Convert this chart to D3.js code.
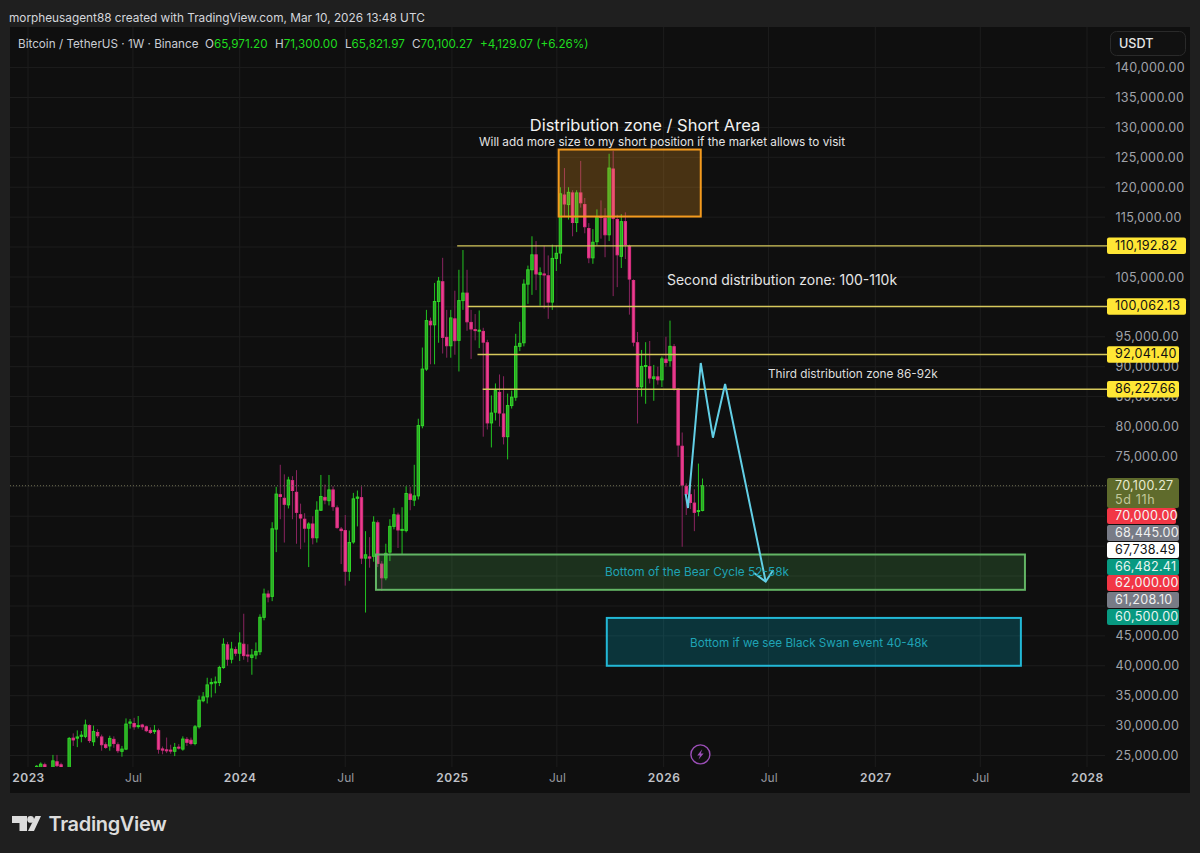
<!DOCTYPE html>
<html><head><meta charset="utf-8">
<script src="https://cdnjs.cloudflare.com/ajax/libs/d3/7.8.5/d3.min.js"></script>
<style>
html,body{margin:0;padding:0;background:#1f1f1f;}
svg{display:block;font-family:Inter,"Noto Sans",sans-serif;}
</style></head><body><svg id="c" width="1200" height="853"></svg>
<script>
// Weekly BTC/USDT candles (thousand USDT), one row per ten weeks.
const firstWeek = "2023-01-16";
const opens = [21.2,23.0,23.45,22.9,21.8,23.95,23.45,22.4,
20.5,27.9,27.9,28.2,28.2,30.0,27.3,28.85,28.1,26.8,
26.6,27.7,26.8,25.7,26.07,30.4,30.35,29.9,30.1,29.8,
29.2,29.0,29.15,26.1,25.95,25.9,25.7,26.4,26.07,27.7,
27.55,27.0,29.8,34.15,34.8,37.0,37.2,37.2,39.7,43.5,
41.1,42.7,42.1,43.6,41.8,41.4,41.8,42.35,48.1,52.0,
51.6,62.85,68.6,68.0,66.9,70.95,69.0,65.25,64.5,63.0,
63.7,61.4,66.0,68.15,67.6,69.4,66.4,62.85,62.6,55.8,
60.7,68.0,68.1,58.0,58.2,58.3,63.9,57.0,54.7,59.0,
63.3,65.2,62.7,62.6,68.7,67.7,68.4,80.15,89.6,97.6,
97.0,100.9,104.2,94.9,93.5,98.0,94.4,101.05,102.3,97.4,
96.2,96.0,95.9,94.0,80.6,82.4,85.7,82.1,78.3,83.5,
84.9,93.4,94.0,103.8,106.2,108.7,105.4,105.5,105.2,100.8,
108.1,109.0,118.7,117.1,119.05,114.1,119.05,117.1,113.1,108.2,
110.9,115.1,114.85,112.05,123.05,114.6,108.45,114.25,110.1,104.4,
94.0,86.65,90.1,90.0,88.0,88.3,87.8,91.25,91.0,93.35,
86.25,76.7,70.0,68.6,67.2,65.8,65.97];
const highs = [23.4,23.85,23.8,22.95,25.1,25.1,23.8,22.7,
28.1,28.7,29.2,29.1,31.0,30.2,30.0,29.4,28.5,27.2,
28.3,28.2,27.2,26.6,31.2,31.1,31.3,31.6,30.3,30.0,
29.7,30.1,29.5,26.5,28.0,26.8,27.1,26.9,28.2,28.1,
28.0,30.1,35.0,35.6,38.0,37.9,38.2,40.0,44.6,44.0,
44.0,43.2,45.6,48.7,43.6,42.8,43.9,48.6,52.9,52.6,
64.0,69.9,73.6,72.0,71.6,71.7,72.7,67.1,65.5,64.0,
65.0,67.5,71.9,70.3,71.9,70.0,66.8,63.2,65.2,62.6,
68.9,69.3,70.0,62.5,61.5,65.0,64.3,57.5,60.4,64.5,
66.4,65.6,66.5,70.0,69.9,73.6,81.3,93.2,99.5,98.2,
104.0,105.0,108.2,99.5,99.5,102.7,106.2,109.5,106.2,99.5,
98.8,99.4,96.5,94.5,85.2,87.2,88.7,88.4,85.5,86.0,
95.5,97.5,104.6,106.9,111.8,111.0,106.6,110.2,108.6,110.4,
110.2,120.0,123.2,120.0,119.5,119.5,124.4,118.2,114.0,113.0,
116.3,117.8,116.5,125.6,126.1,115.4,115.5,115.8,110.4,104.6,
95.8,92.8,94.1,94.3,90.3,90.0,91.7,95.0,97.7,93.8,
86.4,79.0,70.5,71.0,69.5,73.8,71.3];
const lows = [20.4,22.3,22.6,21.4,21.5,22.8,21.9,19.6,
19.9,26.6,26.4,27.2,27.9,27.1,26.6,27.9,25.8,26.1,
25.8,26.3,25.4,24.8,25.9,29.5,29.3,29.5,29.3,28.9,
28.6,28.6,25.3,25.2,25.4,25.3,24.9,26.0,25.8,26.6,
26.7,26.7,29.5,33.9,33.7,34.7,35.4,36.6,39.5,40.0,
40.4,41.6,40.8,41.0,40.6,38.5,41.1,41.8,47.6,50.6,
50.8,59.0,64.5,60.6,66.3,64.5,60.4,59.5,60.6,56.5,
60.3,60.6,65.9,67.0,66.8,65.9,62.9,57.0,53.4,54.2,
60.4,63.3,57.0,48.9,56.4,57.4,56.5,52.5,54.3,57.5,
62.8,59.7,58.6,62.3,66.0,66.7,67.8,79.7,89.3,90.4,
90.4,94.0,92.2,91.5,91.5,92.0,89.2,99.5,96.0,91.3,
94.4,93.1,78.3,79.5,76.5,81.0,80.0,77.0,74.5,83.0,
84.3,92.6,93.4,100.5,102.0,102.8,100.2,99.7,98.0,99.5,
106.0,107.2,115.0,114.6,111.8,112.5,116.6,112.3,107.3,107.2,
110.3,111.4,108.3,111.0,101.8,103.3,106.5,108.0,98.7,93.4,
80.5,85.0,83.8,87.2,84.3,87.0,86.6,90.0,90.0,86.0,
74.9,59.9,65.2,66.2,62.5,65.0,65.82];
const closes = [23.2,23.55,23.0,21.8,24.1,23.3,22.4,20.4,
27.85,27.6,28.1,28.4,30.1,27.5,29.0,28.3,26.8,26.35,
27.85,27.0,25.8,26.07,30.25,30.6,29.8,30.0,29.8,29.15,
28.85,29.2,26.05,25.9,25.9,25.85,26.35,26.35,27.75,27.2,
27.0,29.8,34.25,34.8,36.8,37.2,37.3,39.7,43.6,41.1,
42.8,42.1,43.8,41.7,41.7,41.8,42.4,48.1,52.0,51.5,
62.9,68.7,68.3,67.0,71.05,69.3,65.65,64.7,63.0,63.7,
61.4,66.0,68.3,67.7,69.4,66.6,63.1,62.6,55.8,60.6,
67.9,68.2,58.0,58.55,58.0,64.0,57.1,54.7,58.8,63.3,
65.25,62.7,62.8,68.8,67.8,68.4,80.15,89.6,97.7,97.0,
100.9,104.3,94.9,93.5,98.15,94.35,101.05,102.3,97.5,96.3,
96.1,96.1,94.1,80.6,82.25,86.0,82.25,78.3,83.5,84.9,
93.4,93.9,103.8,106.2,108.7,105.5,105.7,105.4,100.8,108.1,
108.95,118.9,117.2,119.15,114.1,119.05,117.4,113.4,108.2,110.8,
115.1,115.0,112.05,123.2,114.8,108.7,114.25,110.4,104.65,94.1,
86.65,90.05,90.2,88.1,88.3,87.8,91.3,90.7,93.4,86.4,
76.9,70.2,68.7,67.3,65.65,65.95,70.1];

const priceTicks = [25000,30000,35000,40000,45000,50000,55000,60000,65000,70000,75000,80000,85000,90000,95000,100000,105000,110000,115000,120000,125000,130000,135000,140000];
const coveredTicks = [50000,55000,60000,65000,70000,100000,110000];
const timeTicks = ["2023-01-01","2023-07-01","2024-01-01","2024-07-01","2025-01-01","2025-07-01","2026-01-01","2026-07-01","2027-01-01","2027-07-01","2028-01-01"];
const lastPrice = 70100.27;

const levelValues = [110192.82,100062.13,92041.40,86227.66];
const levelStarts = ["2025-01-10","2025-01-28","2025-02-14","2025-02-23"];

const zoneNames = ["distribution","bear","swan"];
const zoneStart = ["2025-07-04","2024-08-23","2025-09-25"];
const zoneEnd = ["2026-03-06","2027-09-16","2027-09-09"];
const zoneTop = [126300,58600,48000];
const zoneBottom = [115100,52700,40000];
const zoneStroke = ["#f39a1e","#63b565","#22b8d6"];
const zoneFill = ["rgba(243,154,30,0.25)","rgba(76,175,80,0.22)","rgba(0,188,212,0.22)"];

const pathDates = ["2026-02-08","2026-02-12","2026-03-06","2026-03-27","2026-04-17","2026-06-26"];
const pathPrices = [68720,66380,90620,78130,87110,54060];
const arrowDates = ["2026-06-06","2026-06-26","2026-07-09"];
const arrowPrices = [55513,54060,56010];

const stackLabels = ["70,000.00","68,445.00","67,738.49","66,482.41","62,000.00","61,208.10","60,500.00"];
const stackColors = ["#f23645","#787b86","#ffffff","#089981","#f23645","#787b86","#089981"];
const stackText = ["#f5f5f5","#f0f0f0","#111111","#e8f5f2","#f5f5f5","#f0f0f0","#e8f5f2"];
const stackTops = [508,525,542,559,575,592,609];

const ohlcLabels = ["O","H","L","C"];
const ohlcValues = ["65,971.20","71,300.00","65,821.97","70,100.27"];

const parse = d3.utcParse("%Y-%m-%d");
const x = d3.scaleUtc().domain([parse("2023-01-01"), parse("2028-01-01")]).range([28,1087]);
const y = d3.scaleLinear().domain([25000,140000]).range([755.5,67.6]);

const svg = d3.select("#c");
svg.append("rect").attr("width",1200).attr("height",853).attr("fill","#1f1f1f");
svg.append("rect").attr("x",10).attr("y",27).attr("width",1180).attr("height",766).attr("fill","#0f0f0f");

// Attribution
svg.append("text").attr("x",9).attr("y",21.5).attr("fill","#d4d6dc").attr("font-size",11.8).text("morpheusagent88 created with TradingView.com, Mar 10, 2026 13:48 UTC");

// Grid
const grid = svg.append("g");
grid.selectAll("line.h").data(priceTicks).join("line").attr("class","h")
  .attr("x1",10).attr("x2",1105).attr("y1",d=>y(d)).attr("y2",d=>y(d)).attr("stroke","#1d1d1d");
grid.selectAll("line.v").data(timeTicks).join("line").attr("class","v")
  .attr("x1",d=>x(parse(d))).attr("x2",d=>x(parse(d))).attr("y1",27).attr("y2",767).attr("stroke","#1d1d1d");

// Axes
const priceFormat = d3.format(",.2f");
const priceAxis = d3.axisRight(y).tickValues(priceTicks).tickSize(0).tickPadding(0)
  .tickFormat(d => coveredTicks.includes(d) ? "" : priceFormat(d));
const gy = svg.append("g").attr("transform","translate(1115.5,0)").call(priceAxis);
gy.select(".domain").remove();
gy.selectAll("text").attr("text-anchor","start").attr("fill","#a0a3aa").attr("font-size",12.6).attr("font-family","Inter,sans-serif").attr("letter-spacing","0.25px");

const timeAxis = d3.axisBottom(x).tickValues(timeTicks.map(parse)).tickSize(0).tickPadding(0)
  .tickFormat(d => d.getUTCMonth()===0 ? d3.utcFormat("%Y")(d) : d3.utcFormat("%b")(d));
const gx = svg.append("g").attr("transform","translate(0,773)").call(timeAxis);
gx.select(".domain").remove();
gx.selectAll("text").attr("font-size",12).attr("font-family","Inter,sans-serif")
  .attr("letter-spacing",d=>d.getUTCMonth()===0?"0.5px":"0")
  .attr("font-weight",d=>d.getUTCMonth()===0?600:400)
  .attr("fill",d=>d.getUTCMonth()===0?"#c0c2c8":"#96989f");

// Candles
svg.append("defs").append("clipPath").attr("id","plot").append("rect").attr("x",10).attr("y",27).attr("width",1095).attr("height",740);
const candles = opens.map((o,i)=>({date:d3.utcDay.offset(parse(firstWeek),7*i),o,h:highs[i],l:lows[i],c:closes[i]}));
const plot = svg.append("g").attr("clip-path","url(#plot)");
const K = 1000;
const up = d => d.c >= d.o;
plot.selectAll("line.w").data(candles).join("line").attr("class","w")
  .attr("x1",d=>x(d.date)).attr("x2",d=>x(d.date))
  .attr("y1",d=>y(d.h*K)).attr("y2",d=>y(d.l*K))
  .attr("stroke",d=>up(d)?"#22c421":"#8a2460").attr("stroke-width",1);
plot.selectAll("rect.b").data(candles).join("rect").attr("class","b")
  .attr("x",d=>x(d.date)-1.2).attr("width",2.4)
  .attr("y",d=>y(Math.max(d.o,d.c)*K))
  .attr("height",d=>Math.max(1,Math.abs(y(d.o*K)-y(d.c*K))))
  .attr("fill",d=>up(d)?"#2da427":"#ea3f8f")
  .attr("stroke",d=>up(d)?"#30d827":"#dc2f82").attr("stroke-width",1);

// Dotted last-price line
svg.append("line").attr("x1",10).attr("x2",1107).attr("y1",y(lastPrice)).attr("y2",y(lastPrice))
  .attr("stroke","#6f6f52").attr("stroke-width",1).attr("stroke-dasharray","1 2");

// Zones
svg.selectAll("rect.z").data(zoneNames).join("rect").attr("class","z")
  .attr("x",(d,i)=>x(parse(zoneStart[i])))
  .attr("width",(d,i)=>x(parse(zoneEnd[i]))-x(parse(zoneStart[i])))
  .attr("y",(d,i)=>y(zoneTop[i]))
  .attr("height",(d,i)=>y(zoneBottom[i])-y(zoneTop[i]))
  .attr("fill",(d,i)=>zoneFill[i]).attr("stroke",(d,i)=>zoneStroke[i]).attr("stroke-width",2);

// Horizontal levels
svg.selectAll("line.l").data(levelValues).join("line").attr("class","l")
  .attr("x1",(d,i)=>x(parse(levelStarts[i]))).attr("x2",1107)
  .attr("y1",d=>y(d)).attr("y2",d=>y(d)).attr("stroke","#d6c85c").attr("stroke-width",1.3);

// Projection path
const lineGen = d3.line().x(d=>x(parse(d[0]))).y(d=>y(d[1]));
svg.append("path").attr("d",lineGen(pathDates.map((d,i)=>[d,pathPrices[i]]))).attr("fill","none").attr("stroke","#62cfe6").attr("stroke-width",2).attr("stroke-linejoin","miter");
svg.append("path").attr("d",lineGen(arrowDates.map((d,i)=>[d,arrowPrices[i]]))).attr("fill","none").attr("stroke","#62cfe6").attr("stroke-width",2);

// Annotation text
const note = (tx,ty,s,size,fill,anchor="start") => svg.append("text").attr("x",tx).attr("y",ty).attr("font-size",size).attr("fill",fill).attr("text-anchor",anchor).text(s);
note(645,130.5,"Distribution zone / Short Area",16.5,"#f2f2f2","middle");
note(662,146,"Will add more size to my short position if the market allows to visit",11.75,"#e4e4e4","middle");
note(667,285,"Second distribution zone: 100-110k",13.97,"#e6e6e6");
note(768,378,"Third distribution zone 86-92k",11.8,"#dedede");
note(605,576,"Bottom of the Bear Cycle 52-58k",11.85,"#1fa3b5");
note(690,647,"Bottom if we see Black Swan event 40-48k",11.7,"#1fa3b5");

// Price labels on the right
const tag = (top,h,w,fill,txt,color)=>{
  svg.append("rect").attr("x",1107).attr("y",top).attr("width",w).attr("height",h).attr("rx",2).attr("fill",fill);
  svg.append("text").attr("x",1115).attr("y",top+12.3).attr("font-size",12.6).attr("fill",color).attr("letter-spacing","0.25px").text(txt);
};
levelValues.forEach((v)=>{
  const wide = v>=100000;
  tag(y(v)-8.3,16.5,wide?79:72,"#ffe635",priceFormat(v),"#111");
});
tag(478,30,72,"#5f6b2c","70,100.27","#e8ead0");
svg.append("text").attr("x",1115).attr("y",503.5).attr("font-size",12.6).attr("fill","#c2c79a").attr("letter-spacing","0.6px").text("5d 11h");
stackLabels.forEach((s,i)=>tag(stackTops[i],16,i===0?69:72,stackColors[i],s,stackText[i]));

// Currency button
svg.append("rect").attr("x",1110.5).attr("y",31.5).attr("width",75).attr("height",24).attr("rx",6).attr("fill","#111").attr("stroke","#2a2a2a");
svg.append("text").attr("x",1119).attr("y",48).attr("font-size",12.6).attr("font-weight",500).attr("fill","#e6e6e6").text("USDT");

// Legend header
const head = svg.append("g").attr("font-size",11.7);
head.append("text").attr("x",18).attr("y",48).attr("fill","#c9ccd3").text("Bitcoin / TetherUS · 1W · Binance");
const ohlcX = [205,275,345,412];
ohlcLabels.forEach((l,i)=>{
  const t = head.append("text").attr("x",ohlcX[i]).attr("y",48).attr("fill","#c9ccd3").text(l);
  t.append("tspan").attr("fill","#1fdc1f").text(ohlcValues[i]);
});
head.append("text").attr("x",480).attr("y",48).attr("fill","#1fdc1f").text("+4,129.07 (+6.26%)");

// Bolt badge
const bolt = svg.append("g").attr("transform","translate(700.4,754.4)");
bolt.append("circle").attr("r",9.5).attr("fill","#0f0f0f").attr("stroke","#9c4fb8").attr("stroke-width",1.4);
bolt.append("path").attr("d","M1.8,-5.2 L-3.2,1 L-0.4,1 L-1.8,5.2 L3.2,-1 L0.4,-1 Z").attr("fill","#9c4fb8");

// TradingView logo
const logo = svg.append("g").attr("fill","#dcdcdc");
logo.append("path").attr("d","M12,816 H27 V831 H19.5 V823 H12 Z");
logo.append("circle").attr("cx",30.6).attr("cy",819.4).attr("r",3.4);
logo.append("path").attr("d","M34,831 L41,816 H35.5 L28,831 Z");
svg.append("text").attr("x",48.5).attr("y",830.5).attr("font-size",20).attr("font-weight",600).attr("letter-spacing","-0.35px").attr("fill","#dcdcdc").text("TradingView");
</script></body></html>
